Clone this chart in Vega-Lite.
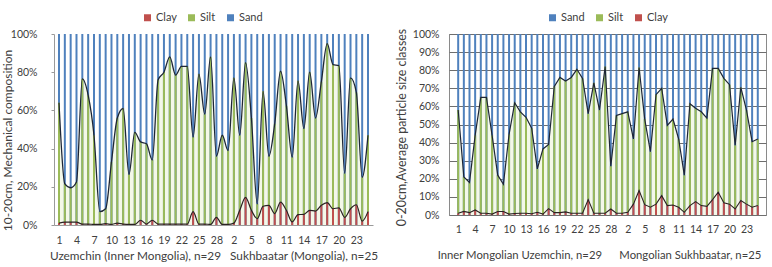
{
  "$schema": "https://vega.github.io/schema/vega-lite/v6.json",
  "padding": {"left": 0, "top": 11, "right": 0, "bottom": 0},
  "background": "white",
  "config": {
    "font": "Lato",
    "axis": {"labelFont": "Lato", "titleFont": "Lato", "labelFontSize": 10.5, "titleFontSize": 11, "labelColor": "#404040", "titleColor": "#404040", "titleFontWeight": "normal", "labelOverlap": false},
    "legend": {"labelFont": "Lato", "labelFontSize": 11, "labelColor": "#404040"}
  },
  "datasets": {
    "left": [
      {"i":1,"Clay":1,"Silt":63,"Sand":36},{"i":2,"Clay":1.5,"Silt":20,"Sand":78.5},{"i":3,"Clay":1.5,"Silt":18,"Sand":80.5},{"i":4,"Clay":1.5,"Silt":21,"Sand":77.5},{"i":5,"Clay":0.5,"Silt":76,"Sand":23.5},{"i":6,"Clay":0.5,"Silt":67.5,"Sand":32},{"i":7,"Clay":0.3,"Silt":46.7,"Sand":53},{"i":8,"Clay":0.3,"Silt":6.7,"Sand":93},{"i":9,"Clay":0.7,"Silt":7.8,"Sand":91.5},{"i":10,"Clay":0.3,"Silt":32.7,"Sand":67},
      {"i":11,"Clay":1,"Silt":55,"Sand":44},{"i":12,"Clay":0.5,"Silt":60.5,"Sand":39},{"i":13,"Clay":0.3,"Silt":26.2,"Sand":73.5},{"i":14,"Clay":0.3,"Silt":48.2,"Sand":51.5},{"i":15,"Clay":2.5,"Silt":41,"Sand":56.5},{"i":16,"Clay":0.5,"Silt":42,"Sand":57.5},{"i":17,"Clay":2.5,"Silt":31.5,"Sand":66},{"i":18,"Clay":0.5,"Silt":75.5,"Sand":24},{"i":19,"Clay":0.5,"Silt":79.5,"Sand":20},{"i":20,"Clay":0.5,"Silt":87.5,"Sand":12},
      {"i":21,"Clay":0.5,"Silt":78,"Sand":21.5},{"i":22,"Clay":0.5,"Silt":82.5,"Sand":17},{"i":23,"Clay":0.5,"Silt":82.5,"Sand":17},{"i":24,"Clay":7,"Silt":39,"Sand":54},{"i":25,"Clay":0.5,"Silt":78.5,"Sand":21},{"i":26,"Clay":0.5,"Silt":57.5,"Sand":42},{"i":27,"Clay":0.3,"Silt":87.7,"Sand":12},{"i":28,"Clay":4,"Silt":32,"Sand":64},{"i":29,"Clay":0.3,"Silt":46.7,"Sand":53},
      {"i":30,"Clay":0.3,"Silt":38.7,"Sand":61},{"i":31,"Clay":1,"Silt":76,"Sand":23},{"i":32,"Clay":7.7,"Silt":39.3,"Sand":53},{"i":33,"Clay":14.5,"Silt":70.5,"Sand":15},{"i":34,"Clay":7.7,"Silt":48.3,"Sand":44},{"i":35,"Clay":3.3,"Silt":7.7,"Sand":89},{"i":36,"Clay":9.8,"Silt":60.2,"Sand":30},{"i":37,"Clay":10.3,"Silt":25.7,"Sand":64},{"i":38,"Clay":6,"Silt":47,"Sand":47},{"i":39,"Clay":12,"Silt":68.5,"Sand":19.5},
      {"i":40,"Clay":7.7,"Silt":54.8,"Sand":37.5},{"i":41,"Clay":1.6,"Silt":33.9,"Sand":64.5},{"i":42,"Clay":5.4,"Silt":70.1,"Sand":24.5},{"i":43,"Clay":5.6,"Silt":44.9,"Sand":49.5},{"i":44,"Clay":7.7,"Silt":72.3,"Sand":20},{"i":45,"Clay":7.3,"Silt":48.7,"Sand":44},{"i":46,"Clay":10.3,"Silt":64.7,"Sand":25},{"i":47,"Clay":11.7,"Silt":83.3,"Sand":5},{"i":48,"Clay":8.5,"Silt":75.5,"Sand":16},{"i":49,"Clay":9,"Silt":74.5,"Sand":16.5},
      {"i":50,"Clay":4,"Silt":23,"Sand":73},{"i":51,"Clay":8.5,"Silt":68.5,"Sand":23},{"i":52,"Clay":10.6,"Silt":58.9,"Sand":30.5},{"i":53,"Clay":2,"Silt":23,"Sand":75},{"i":54,"Clay":7,"Silt":40,"Sand":53}
    ],
    "right": [
      {"i":1,"Clay":1,"Silt":57,"Sand":42},{"i":2,"Clay":2,"Silt":19,"Sand":79},{"i":3,"Clay":1.3,"Silt":16.7,"Sand":82},{"i":4,"Clay":2.8,"Silt":41.2,"Sand":56},{"i":5,"Clay":1,"Silt":64,"Sand":35},{"i":6,"Clay":1,"Silt":64,"Sand":35},{"i":7,"Clay":0.5,"Silt":43.5,"Sand":56},{"i":8,"Clay":1.9,"Silt":20.1,"Sand":78},{"i":9,"Clay":1.9,"Silt":15.1,"Sand":83},{"i":10,"Clay":0.5,"Silt":44,"Sand":55.5},
      {"i":11,"Clay":0.8,"Silt":61.2,"Sand":38},{"i":12,"Clay":1,"Silt":56,"Sand":43},{"i":13,"Clay":1,"Silt":53,"Sand":46},{"i":14,"Clay":0.7,"Silt":47.3,"Sand":52},{"i":15,"Clay":1.5,"Silt":24,"Sand":74.5},{"i":16,"Clay":0.5,"Silt":36,"Sand":63.5},{"i":17,"Clay":3.5,"Silt":35.5,"Sand":61},{"i":18,"Clay":1.3,"Silt":69.7,"Sand":29},{"i":19,"Clay":1.3,"Silt":74.7,"Sand":24},{"i":20,"Clay":1.7,"Silt":72.3,"Sand":26},
      {"i":21,"Clay":1,"Silt":75,"Sand":24},{"i":22,"Clay":1,"Silt":79.5,"Sand":19.5},{"i":23,"Clay":1,"Silt":74.5,"Sand":24.5},{"i":24,"Clay":8.5,"Silt":47.5,"Sand":44},{"i":25,"Clay":1,"Silt":72,"Sand":27},{"i":26,"Clay":1,"Silt":57,"Sand":42},{"i":27,"Clay":1,"Silt":81,"Sand":18},{"i":28,"Clay":3.3,"Silt":23.7,"Sand":73},{"i":29,"Clay":1,"Silt":54,"Sand":45},
      {"i":30,"Clay":1,"Silt":55,"Sand":44},{"i":31,"Clay":1.5,"Silt":55.5,"Sand":43},{"i":32,"Clay":6,"Silt":36,"Sand":58},{"i":33,"Clay":13.5,"Silt":68,"Sand":18.5},{"i":34,"Clay":5.7,"Silt":47.3,"Sand":47},{"i":35,"Clay":4.3,"Silt":30.7,"Sand":65},{"i":36,"Clay":6,"Silt":60.5,"Sand":33.5},{"i":37,"Clay":10.7,"Silt":59.3,"Sand":30},{"i":38,"Clay":5.2,"Silt":44.3,"Sand":50.5},{"i":39,"Clay":5.5,"Silt":47.5,"Sand":47},
      {"i":40,"Clay":4.3,"Silt":37.7,"Sand":58},{"i":41,"Clay":1.5,"Silt":20.5,"Sand":78},{"i":42,"Clay":5.2,"Silt":56.3,"Sand":38.5},{"i":43,"Clay":7.4,"Silt":51.6,"Sand":41},{"i":44,"Clay":5.2,"Silt":51.8,"Sand":43},{"i":45,"Clay":4.8,"Silt":48.7,"Sand":46.5},{"i":46,"Clay":8.5,"Silt":72.5,"Sand":19},{"i":47,"Clay":12.6,"Silt":68.4,"Sand":19},{"i":48,"Clay":6.7,"Silt":68.8,"Sand":24.5},{"i":49,"Clay":6,"Silt":66,"Sand":28},
      {"i":50,"Clay":3.3,"Silt":35.2,"Sand":61.5},{"i":51,"Clay":8,"Silt":62.5,"Sand":29.5},{"i":52,"Clay":6,"Silt":52,"Sand":42},{"i":53,"Clay":4.3,"Silt":36.2,"Sand":59.5},{"i":54,"Clay":5.2,"Silt":36.8,"Sand":58}
    ]
  },
  "resolve": {"scale": {"color": "independent", "x": "independent", "y": "independent"}},
  "spacing": 16,
  "hconcat": [
    {
      "width": 319,
      "height": 191,
      "view": {"stroke": null},
      "data": {"name": "left"},
      "layer": [
        {
          "transform": [
            {"fold": ["Clay", "Silt"], "as": ["comp", "pct"]},
            {"stack": "pct", "groupby": ["i"], "sort": [{"field": "comp", "order": "ascending"}], "as": ["p0", "p1"]},
            {"filter": "datum.comp === 'Silt'"}
          ],
          "mark": {"type": "area", "interpolate": "monotone", "color": "#f4f8e9"},
          "encoding": {
            "x": {"field": "i", "type": "quantitative", "scale": {"domain": [1, 54], "nice": false, "zero": false},
              "axis": {"values": [1,4,7,10,13,16,19,22,25,28,31,34,37,40,43,46,49,52], "tickCount": 100, "labelExpr": "datum.value <= 29 ? datum.value : datum.value - 29", "labelOverlap": false, "ticks": false, "grid": false, "domainColor": "#9a9a9a", "labelPadding": 10, "labelFlush": false,
                "title": "Uzemchin (Inner Mongolia), n=29\u00a0\u00a0\u00a0Sukhbaatar (Mongolia), n=25", "titleFontSize": 11.8, "titlePadding": 5}},
            "y": {"field": "p1", "type": "quantitative", "scale": {"domain": [0, 100], "nice": false},
              "axis": {"values": [0,20,40,60,80,100], "tickCount": 100, "labelExpr": "datum.value + '%'", "labelOverlap": false, "grid": false, "tickSize": 3, "tickColor": "#9a9a9a", "domainColor": "#9a9a9a", "labelPadding": 14,
                "title": "10-20cm, Mechanical composition", "titleFontSize": 12, "titleX": -40, "titleY": 106}}
          }
        },
        {
          "mark": {"type": "bar", "size": 2},
          "encoding": {
            "x": {"field": "i", "type": "quantitative"},
            "y": {"datum": 100, "type": "quantitative"},
            "color": {"datum": "Sand", "type": "nominal",
              "scale": {"domain": ["Clay", "Silt", "Sand"], "range": ["#c0504d", "#9bbb59", "#4f81bd"]},
              "legend": {"orient": "none", "legendX": 88, "legendY": -22, "direction": "horizontal", "title": null, "symbolType": "square", "symbolSize": 49, "symbolStrokeWidth": 0, "columnPadding": 9, "labelOffset": 3}}
          }
        },
        {
          "transform": [{"fold": ["Clay", "Silt"], "as": ["comp", "pct"]}],
          "mark": {"type": "bar", "size": 2},
          "encoding": {
            "x": {"field": "i", "type": "quantitative"},
            "y": {"field": "pct", "type": "quantitative", "stack": "zero"},
            "color": {"field": "comp", "type": "nominal",
              "legend": {"orient": "none", "legendX": 88, "legendY": -22, "direction": "horizontal", "title": null, "symbolType": "square", "symbolSize": 49, "symbolStrokeWidth": 0, "columnPadding": 9, "labelOffset": 3}},
            "order": {"field": "comp", "sort": "ascending"}
          }
        },
        {
          "mark": {"type": "line", "interpolate": "monotone", "color": "#2b2222", "strokeWidth": 1.2},
          "encoding": {
            "x": {"field": "i", "type": "quantitative"},
            "y": {"field": "Clay", "type": "quantitative"}
          }
        },
        {
          "transform": [
            {"fold": ["Clay", "Silt"], "as": ["comp", "pct"]},
            {"stack": "pct", "groupby": ["i"], "sort": [{"field": "comp", "order": "ascending"}], "as": ["p0", "p1"]},
            {"filter": "datum.comp === 'Silt'"}
          ],
          "mark": {"type": "line", "interpolate": "monotone", "color": "#1e2636", "strokeWidth": 1.3},
          "encoding": {
            "x": {"field": "i", "type": "quantitative"},
            "y": {"field": "p1", "type": "quantitative"}
          }
        }
      ]
    },
    {
      "width": 317,
      "height": 181,
      "view": {"stroke": "#8a8a8a"},
      "data": {"name": "right"},
      "layer": [
        {
          "transform": [
            {"fold": ["Clay", "Silt"], "as": ["comp", "pct"]},
            {"stack": "pct", "groupby": ["i"], "sort": [{"field": "comp", "order": "ascending"}], "as": ["p0", "p1"]},
            {"filter": "datum.comp === 'Silt'"}
          ],
          "mark": {"type": "area", "color": "#f4f8e9"},
          "encoding": {
            "x": {"field": "i", "type": "quantitative", "scale": {"domain": [0.26, 54.57], "nice": false, "zero": false},
              "axis": {"values": [1,4,7,10,13,16,19,22,25,28,31,34,37,40,43,46,49,52], "tickCount": 100, "labelExpr": "datum.value <= 29 ? datum.value : datum.value - 29", "labelOverlap": false, "ticks": false, "grid": false, "domain": false, "labelPadding": 9, "labelFlush": false,
                "title": "Inner Mongolian Uzemchin, n=29\u00a0\u00a0\u00a0\u00a0\u00a0\u00a0Mongolian Sukhbaatar, n=25", "titleFontSize": 11.3, "titleX": 150, "titlePadding": 15}},
            "y": {"field": "p1", "type": "quantitative", "scale": {"domain": [0, 100], "nice": false},
              "axis": {"values": [0,10,20,30,40,50,60,70,80,90,100], "tickCount": 100, "labelExpr": "datum.value + '%'", "labelOverlap": false, "grid": true, "gridColor": "#6e6e6e", "gridWidth": 1, "ticks": false, "domain": false, "labelPadding": 10,
                "title": "0-20cm,Average particle size classes", "titleFontSize": 12.4, "titleX": -41, "titleY": 93}}
          }
        },
        {
          "mark": {"type": "bar", "size": 2},
          "encoding": {
            "x": {"field": "i", "type": "quantitative"},
            "y": {"datum": 100, "type": "quantitative"},
            "color": {"datum": "Sand", "type": "nominal",
              "scale": {"domain": ["Sand", "Silt", "Clay"], "range": ["#4f81bd", "#9bbb59", "#c0504d"]},
              "legend": {"orient": "none", "legendX": 98, "legendY": -22, "direction": "horizontal", "title": null, "symbolType": "square", "symbolSize": 49, "symbolStrokeWidth": 0, "columnPadding": 9, "labelOffset": 3}}
          }
        },
        {
          "transform": [{"fold": ["Clay", "Silt"], "as": ["comp", "pct"]}],
          "mark": {"type": "bar", "size": 2},
          "encoding": {
            "x": {"field": "i", "type": "quantitative"},
            "y": {"field": "pct", "type": "quantitative", "stack": "zero"},
            "color": {"field": "comp", "type": "nominal",
              "legend": {"orient": "none", "legendX": 98, "legendY": -22, "direction": "horizontal", "title": null, "symbolType": "square", "symbolSize": 49, "symbolStrokeWidth": 0, "columnPadding": 9, "labelOffset": 3}},
            "order": {"field": "comp", "sort": "ascending"}
          }
        },
        {
          "mark": {"type": "line", "color": "#2b2222", "strokeWidth": 1.1},
          "encoding": {
            "x": {"field": "i", "type": "quantitative"},
            "y": {"field": "Clay", "type": "quantitative"}
          }
        },
        {
          "transform": [
            {"fold": ["Clay", "Silt"], "as": ["comp", "pct"]},
            {"stack": "pct", "groupby": ["i"], "sort": [{"field": "comp", "order": "ascending"}], "as": ["p0", "p1"]},
            {"filter": "datum.comp === 'Silt'"}
          ],
          "mark": {"type": "line", "color": "#1e2636", "strokeWidth": 1.2},
          "encoding": {
            "x": {"field": "i", "type": "quantitative"},
            "y": {"field": "p1", "type": "quantitative"}
          }
        }
      ]
    }
  ]
}
